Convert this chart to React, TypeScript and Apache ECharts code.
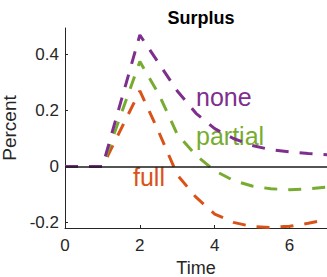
import React, { useEffect, useRef } from "react";
import * as echarts from "echarts";

const time = [0, 1, 2, 2.5, 3, 3.5, 4, 4.5, 5, 5.5, 6, 6.5, 7];
const noneVals = [0, 0, 0.47, 0.37, 0.27, 0.19, 0.135, 0.1, 0.075, 0.06, 0.052, 0.046, 0.042];
const partialVals = [0, 0, 0.375, 0.26, 0.115, 0.04, -0.015, -0.05, -0.07, -0.08, -0.083, -0.08, -0.074];
const fullVals = [0, 0, 0.27, 0.125, -0.03, -0.11, -0.17, -0.2, -0.215, -0.218, -0.214, -0.203, -0.19];
const xTicks = [0, 2, 4, 6];
const yTicks = [-0.2, 0, 0.2, 0.4];

const FONT = "'Liberation Sans', Arial, Helvetica, sans-serif";
const AXIS = "#262626";
const PURPLE = "#7E2F8E";
const GREEN = "#77AC30";
const ORANGE = "#D95319";

const pair = (ys: number[]) => time.map((t, i) => [t, ys[i]]);

export default function App() {
  const ref = useRef<HTMLDivElement>(null);
  useEffect(() => {
    const chart = echarts.init(ref.current!, null, { renderer: "svg" });
    const dash = (color: string) => ({ color, width: 3, type: [13, 11] as number[], cap: "butt" as const });
    chart.setOption({
      animation: false,
      title: {
        text: "Surplus",
        left: 196,
        textAlign: "center",
        top: 4,
        textStyle: { fontFamily: FONT, fontSize: 18, fontWeight: "bold", color: "#000" },
      },
      grid: { left: 65, right: 0, top: 28, bottom: 49, containLabel: false, outerBoundsMode: "none" },
      xAxis: {
        type: "value",
        min: 0,
        max: 7,
        interval: 2,
        name: "Time",
        nameLocation: "middle",
        nameGap: 29,
        nameTextStyle: { fontFamily: FONT, fontSize: 18, lineHeight: 18, color: AXIS },
        axisLine: { show: true, onZero: false, lineStyle: { color: AXIS, width: 1 } },
        axisTick: { show: true, inside: true, length: 3, customValues: xTicks, lineStyle: { color: AXIS } },
        axisLabel: { fontFamily: FONT, fontSize: 17, color: AXIS, margin: 9, customValues: xTicks },
        splitLine: { show: false },
      },
      yAxis: {
        type: "value",
        min: -0.22,
        max: 0.495,
        name: "Percent",
        nameLocation: "middle",
        nameGap: 37,
        nameRotate: 90,
        nameTextStyle: { fontFamily: FONT, fontSize: 19, color: AXIS },
        axisLine: { show: true, onZero: false, lineStyle: { color: AXIS, width: 1 } },
        axisTick: { show: true, inside: true, length: 3, customValues: yTicks, lineStyle: { color: AXIS } },
        axisLabel: {
          fontFamily: FONT,
          fontSize: 17,
          color: AXIS,
          margin: 6,
          customValues: yTicks,
          formatter: (v: number) => (Math.abs(v) < 1e-9 ? "0" : String(Math.round(v * 10) / 10)),
        },
        splitLine: { show: false },
      },
      series: [
        {
          type: "line",
          data: pair(fullVals),
          showSymbol: false,
          lineStyle: dash(ORANGE),
          markLine: {
            silent: true,
            symbol: "none",
            label: { show: false },
            lineStyle: { color: "#1a1a1a", width: 1.5, type: "solid" },
            data: [{ yAxis: 0 }],
          },
          z: 2,
        },
        { type: "line", data: pair(partialVals), showSymbol: false, lineStyle: dash(GREEN), z: 3 },
        { type: "line", data: pair(noneVals), showSymbol: false, lineStyle: dash(PURPLE), z: 4 },
      ],
      graphic: [
        { type: "text", left: 196, top: 84, style: { text: "none", fill: PURPLE, font: `25px ${FONT}` } },
        { type: "text", left: 196, top: 123, style: { text: "partial", fill: GREEN, font: `25px ${FONT}` } },
        { type: "text", left: 133, top: 164, style: { text: "full", fill: ORANGE, font: `25px ${FONT}` } },
      ],
    });
    return () => chart.dispose();
  }, []);
  return <div ref={ref} style={{ width: 327, height: 277, position: "absolute", left: 0, top: 0 }} />;
}
